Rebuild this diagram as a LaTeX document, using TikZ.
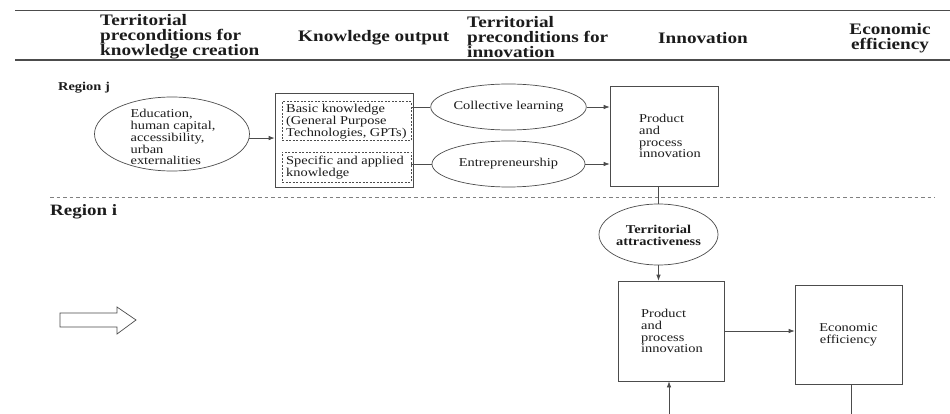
\documentclass[tikz,border=0pt]{standalone}
\usepackage{fontspec}
\setmainfont{Liberation Serif}[FakeStretch=1.2]
\usetikzlibrary{shapes.geometric,arrows.meta}
\definecolor{ln}{HTML}{4C4C4C}
\definecolor{tx}{HTML}{1C1C1C}
\definecolor{dl}{HTML}{808080}
\tikzset{
  hdr/.style={inner sep=0pt, text=tx, align=left, font={\fontsize{16}{15}\selectfont\bfseries\lineskiplimit=-20pt}},
  body/.style={inner sep=0pt, text=tx, align=left, font={\fontsize{12}{11.9}\selectfont\lineskiplimit=-20pt}},
  bodyb/.style={inner sep=0pt, text=tx, align=center, font={\fontsize{12}{11.8}\selectfont\bfseries\lineskiplimit=-20pt}},
  ell/.style={ellipse, draw=ln, line width=0.7pt, fill=white, inner sep=0pt},
  sqbox/.style={rectangle, draw=ln, line width=0.7pt, fill=white, inner sep=0pt},
  dbox/.style={rectangle, draw=ln, line width=0.7pt, dash pattern=on 2pt off 1.5pt, inner sep=0pt},
  conn/.style={draw=ln, line width=0.7pt},
  arr/.style={draw=ln, line width=0.7pt, -{Latex[length=6pt,width=4.5pt]}},
}
\begin{document}
\begin{tikzpicture}[x=1pt,y=-1pt]
\useasboundingbox[fill=white] (0,0) rectangle (950,414);
% header rules
\draw[ln, line width=1.2pt] (15,10.5) -- (950,10.5);
\draw[ln, line width=1.2pt] (15,60) -- (950,60);
% headers
\node[hdr, anchor=west] (h1) at (100,37) {Territorial\\preconditions for\\knowledge creation};
\node[hdr, anchor=west] (h2) at (298,38) {Knowledge output};
\node[hdr, anchor=west] (h3) at (467,37) {Territorial\\preconditions for\\innovation};
\node[hdr] (h4) at (703,38.5) {Innovation};
\node[hdr, align=center] (h5) at (890,38) {Economic\\efficiency};
% region labels
\node[inner sep=0pt, text=tx, anchor=west, font={\fontsize{12}{12}\selectfont\bfseries}] (rj) at (58,88) {Region j};
\node[inner sep=0pt, text=tx, anchor=west, font={\fontsize{15.8}{16}\selectfont\bfseries}] (ri) at (50,212) {Region i};
% dashed separator
\draw[dl, line width=0.6pt, dash pattern=on 3.5pt off 3pt] (50,197) -- (935,197);
% region j
\node[ell, minimum width=155, minimum height=74] (edu) at (172,134) {};
\node[body] (edut) at (173,137) {Education,\\human capital,\\accessibility,\\urban\\externalities};
\node[sqbox, minimum width=138, minimum height=94] (ko) at (344,140) {};
\node[dbox, line width=1pt, minimum width=129, minimum height=39] (kb1) at (346.5,121.5) {};
\node[dbox, minimum width=129, minimum height=30] (kb2) at (346.5,167) {};
\node[body, anchor=west] (kb1t) at (286,122) {Basic knowledge\\(General Purpose\\Technologies, GPTs)};
\node[body, anchor=west] (kb2t) at (286,168) {Specific and applied\\knowledge};
\node[ell, minimum width=153, minimum height=46, body, align=center] (coll) at (508.5,107) {Collective learning};
\node[ell, minimum width=153, minimum height=46, body, align=center] (ent) at (508.5,164) {Entrepreneurship};
\node[sqbox, minimum width=108, minimum height=100] (pb1) at (664,136) {};
\node[body, anchor=west] (pb1t) at (639,136) {Product\\and\\process\\innovation};
% region i
\node[ell, minimum width=119, minimum height=61] (ta) at (658.5,234.5) {};
\node[bodyb] (tat) at (658.5,235) {Territorial\\attractiveness};
\node[sqbox, minimum width=106, minimum height=100] (pb2) at (671,331) {};
\node[body, anchor=west] (pb2t) at (641,331) {Product\\and\\process\\innovation};
\node[sqbox, minimum width=107, minimum height=99, body, align=center] (ee) at (848.5,334.5) {Economic\\efficiency};
% connectors
\draw[arr] (edu.-3) -- (edu.-3 -| ko.west);
\draw[conn] (coll.west) -- (coll.west -| kb1.east);
\draw[conn] (ent.west) -- (ent.west -| kb2.east);
\draw[arr] (coll.east) -- (coll.east -| pb1.west);
\draw[arr] (ent.east) -- (ent.east -| pb1.west);
\draw[conn] (ta.north) -- (ta.north |- pb1.south);
\draw[arr] (ta.south) -- (ta.south |- pb2.north);
\draw[arr] (pb2.east) -- (pb2.east -| ee.west);
\coordinate (bot1) at (851,414);
\coordinate (bot2) at (669,414);
\draw[conn] (bot1 |- ee.south) -- (bot1);
\draw[arr] (bot2) -- (bot2 |- pb2.south);
% hollow block arrow
\draw[ln, line width=0.7pt, fill=white, line join=miter] (60,313) -- (117,313) -- (117,307) -- (136,320) -- (117,334) -- (117,327) -- (60,327) -- cycle;
\end{tikzpicture}
\end{document}
